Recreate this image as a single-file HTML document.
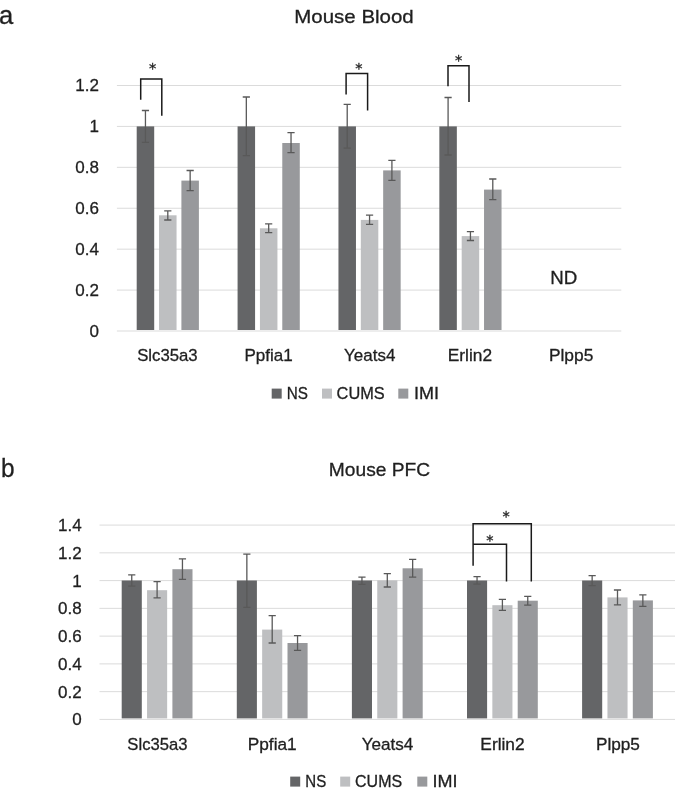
<!DOCTYPE html>
<html><head><meta charset="utf-8"><title>Mouse Blood / Mouse PFC</title>
<style>
html,body{margin:0;padding:0;background:#fff;}
svg{display:block}
text{font-family:"Liberation Sans",sans-serif;fill:#1f1f1f;stroke:#1f1f1f;stroke-width:0.3px;}
</style></head><body>
<svg width="675" height="793" viewBox="0 0 675 793">
<rect width="675" height="793" fill="#fff"/>
<rect x="116.90" y="330.50" width="504.40" height="1" fill="#dbdbdb"/>
<text x="99.00" y="336.60" font-size="17" text-anchor="end">0</text>
<rect x="116.90" y="289.58" width="504.40" height="1" fill="#dbdbdb"/>
<text x="99.00" y="295.68" font-size="17" text-anchor="end">0.2</text>
<rect x="116.90" y="248.66" width="504.40" height="1" fill="#dbdbdb"/>
<text x="99.00" y="254.76" font-size="17" text-anchor="end">0.4</text>
<rect x="116.90" y="207.74" width="504.40" height="1" fill="#dbdbdb"/>
<text x="99.00" y="213.84" font-size="17" text-anchor="end">0.6</text>
<rect x="116.90" y="166.82" width="504.40" height="1" fill="#dbdbdb"/>
<text x="99.00" y="172.92" font-size="17" text-anchor="end">0.8</text>
<rect x="116.90" y="125.90" width="504.40" height="1" fill="#dbdbdb"/>
<text x="99.00" y="132.00" font-size="17" text-anchor="end">1</text>
<rect x="116.90" y="84.98" width="504.40" height="1" fill="#dbdbdb"/>
<text x="99.00" y="91.08" font-size="17" text-anchor="end">1.2</text>
<rect x="136.70" y="126.40" width="17.50" height="203.60" fill="#646567"/>
<path d="M145.45 110.50V142.40M141.85 110.50H149.05M141.85 142.40H149.05" stroke="#595959" stroke-width="1.3" fill="none"/>
<rect x="159.05" y="215.30" width="17.50" height="114.70" fill="#bebfc1"/>
<path d="M167.80 210.80V220.00M164.20 210.80H171.40M164.20 220.00H171.40" stroke="#595959" stroke-width="1.3" fill="none"/>
<rect x="181.40" y="180.60" width="17.50" height="149.40" fill="#98999c"/>
<path d="M190.15 170.50V190.70M186.55 170.50H193.75M186.55 190.70H193.75" stroke="#595959" stroke-width="1.3" fill="none"/>
<rect x="237.58" y="126.40" width="17.50" height="203.60" fill="#646567"/>
<path d="M246.33 97.00V155.70M242.73 97.00H249.93M242.73 155.70H249.93" stroke="#595959" stroke-width="1.3" fill="none"/>
<rect x="259.93" y="228.30" width="17.50" height="101.70" fill="#bebfc1"/>
<path d="M268.68 223.90V232.70M265.08 223.90H272.28M265.08 232.70H272.28" stroke="#595959" stroke-width="1.3" fill="none"/>
<rect x="282.28" y="143.00" width="17.50" height="187.00" fill="#98999c"/>
<path d="M291.03 132.60V152.70M287.43 132.60H294.63M287.43 152.70H294.63" stroke="#595959" stroke-width="1.3" fill="none"/>
<rect x="338.46" y="126.40" width="17.50" height="203.60" fill="#646567"/>
<path d="M347.21 104.30V148.10M343.61 104.30H350.81M343.61 148.10H350.81" stroke="#595959" stroke-width="1.3" fill="none"/>
<rect x="360.81" y="219.90" width="17.50" height="110.10" fill="#bebfc1"/>
<path d="M369.56 215.10V224.30M365.96 215.10H373.16M365.96 224.30H373.16" stroke="#595959" stroke-width="1.3" fill="none"/>
<rect x="383.16" y="170.40" width="17.50" height="159.60" fill="#98999c"/>
<path d="M391.91 160.30V180.40M388.31 160.30H395.51M388.31 180.40H395.51" stroke="#595959" stroke-width="1.3" fill="none"/>
<rect x="439.34" y="126.40" width="17.50" height="203.60" fill="#646567"/>
<path d="M448.09 97.50V155.00M444.49 97.50H451.69M444.49 155.00H451.69" stroke="#595959" stroke-width="1.3" fill="none"/>
<rect x="461.69" y="236.10" width="17.50" height="93.90" fill="#bebfc1"/>
<path d="M470.44 231.70V240.50M466.84 231.70H474.04M466.84 240.50H474.04" stroke="#595959" stroke-width="1.3" fill="none"/>
<rect x="484.04" y="189.60" width="17.50" height="140.40" fill="#98999c"/>
<path d="M492.79 179.00V199.70M489.19 179.00H496.39M489.19 199.70H496.39" stroke="#595959" stroke-width="1.3" fill="none"/>
<text x="167.40" y="361.30" font-size="16.3" text-anchor="middle" textLength="60.50" lengthAdjust="spacingAndGlyphs">Slc35a3</text>
<text x="268.60" y="361.30" font-size="16.3" text-anchor="middle" textLength="48.30" lengthAdjust="spacingAndGlyphs">Ppfia1</text>
<text x="369.70" y="361.30" font-size="16.3" text-anchor="middle" textLength="51.30" lengthAdjust="spacingAndGlyphs">Yeats4</text>
<text x="469.90" y="361.30" font-size="16.3" text-anchor="middle" textLength="44.30" lengthAdjust="spacingAndGlyphs">Erlin2</text>
<text x="571.15" y="361.30" font-size="16.3" text-anchor="middle" textLength="44.40" lengthAdjust="spacingAndGlyphs">Plpp5</text>
<path d="M140.70 99.80V78.90H161.80V115.70" stroke="#1a1a1a" stroke-width="1.5" fill="none" stroke-linejoin="miter"/>
<path d="M346.10 94.50V73.40H367.60V110.50" stroke="#1a1a1a" stroke-width="1.5" fill="none" stroke-linejoin="miter"/>
<path d="M448.00 86.20V65.80H469.00V101.90" stroke="#1a1a1a" stroke-width="1.5" fill="none" stroke-linejoin="miter"/>
<text x="152.50" y="73.20" font-size="14.5" text-anchor="middle" style="font-family:'DejaVu Sans',sans-serif">*</text>
<text x="358.90" y="73.10" font-size="14.5" text-anchor="middle" style="font-family:'DejaVu Sans',sans-serif">*</text>
<text x="458.50" y="64.50" font-size="14.5" text-anchor="middle" style="font-family:'DejaVu Sans',sans-serif">*</text>
<text x="354.00" y="23.30" font-size="19" text-anchor="middle" textLength="119.50" lengthAdjust="spacingAndGlyphs">Mouse Blood</text>
<text x="563.85" y="284.40" font-size="18.8" text-anchor="middle" textLength="27.00" lengthAdjust="spacingAndGlyphs">ND</text>
<rect x="271.70" y="388.60" width="10" height="10" fill="#646567"/>
<text x="286.80" y="398.60" font-size="16.0" text-anchor="start" textLength="21.20" lengthAdjust="spacingAndGlyphs">NS</text>
<rect x="322.00" y="388.60" width="10" height="10" fill="#bebfc1"/>
<text x="336.60" y="398.60" font-size="16.0" text-anchor="start" textLength="48.10" lengthAdjust="spacingAndGlyphs">CUMS</text>
<rect x="398.30" y="388.60" width="10" height="10" fill="#98999c"/>
<text x="413.90" y="398.60" font-size="16.0" text-anchor="start" textLength="25.00" lengthAdjust="spacingAndGlyphs">IMI</text>
<text x="-1.00" y="23.70" font-size="25.6" text-anchor="start">a</text>
<rect x="99.50" y="718.90" width="575.50" height="1" fill="#dbdbdb"/>
<text x="81.70" y="725.40" font-size="17" text-anchor="end">0</text>
<rect x="99.50" y="691.14" width="575.50" height="1" fill="#dbdbdb"/>
<text x="81.70" y="697.64" font-size="17" text-anchor="end">0.2</text>
<rect x="99.50" y="663.38" width="575.50" height="1" fill="#dbdbdb"/>
<text x="81.70" y="669.88" font-size="17" text-anchor="end">0.4</text>
<rect x="99.50" y="635.62" width="575.50" height="1" fill="#dbdbdb"/>
<text x="81.70" y="642.12" font-size="17" text-anchor="end">0.6</text>
<rect x="99.50" y="607.86" width="575.50" height="1" fill="#dbdbdb"/>
<text x="81.70" y="614.36" font-size="17" text-anchor="end">0.8</text>
<rect x="99.50" y="580.10" width="575.50" height="1" fill="#dbdbdb"/>
<text x="81.70" y="586.60" font-size="17" text-anchor="end">1</text>
<rect x="99.50" y="552.34" width="575.50" height="1" fill="#dbdbdb"/>
<text x="81.70" y="558.84" font-size="17" text-anchor="end">1.2</text>
<rect x="99.50" y="524.58" width="575.50" height="1" fill="#dbdbdb"/>
<text x="81.70" y="531.08" font-size="17" text-anchor="end">1.4</text>
<rect x="121.70" y="580.50" width="20.10" height="137.90" fill="#646567"/>
<path d="M131.75 574.80V586.10M128.15 574.80H135.35M128.15 586.10H135.35" stroke="#595959" stroke-width="1.3" fill="none"/>
<rect x="147.05" y="590.20" width="20.10" height="128.20" fill="#bebfc1"/>
<path d="M157.10 581.60V597.90M153.50 581.60H160.70M153.50 597.90H160.70" stroke="#595959" stroke-width="1.3" fill="none"/>
<rect x="172.40" y="569.20" width="20.10" height="149.20" fill="#98999c"/>
<path d="M182.45 558.80V579.30M178.85 558.80H186.05M178.85 579.30H186.05" stroke="#595959" stroke-width="1.3" fill="none"/>
<rect x="236.80" y="580.50" width="20.10" height="137.90" fill="#646567"/>
<path d="M246.85 554.10V607.40M243.25 554.10H250.45M243.25 607.40H250.45" stroke="#595959" stroke-width="1.3" fill="none"/>
<rect x="262.15" y="629.60" width="20.10" height="88.80" fill="#bebfc1"/>
<path d="M272.20 615.60V643.00M268.60 615.60H275.80M268.60 643.00H275.80" stroke="#595959" stroke-width="1.3" fill="none"/>
<rect x="287.50" y="643.00" width="20.10" height="75.40" fill="#98999c"/>
<path d="M297.55 635.60V650.40M293.95 635.60H301.15M293.95 650.40H301.15" stroke="#595959" stroke-width="1.3" fill="none"/>
<rect x="351.90" y="580.50" width="20.10" height="137.90" fill="#646567"/>
<path d="M361.95 577.20V584.30M358.35 577.20H365.55M358.35 584.30H365.55" stroke="#595959" stroke-width="1.3" fill="none"/>
<rect x="377.25" y="580.40" width="20.10" height="138.00" fill="#bebfc1"/>
<path d="M387.30 573.60V587.00M383.70 573.60H390.90M383.70 587.00H390.90" stroke="#595959" stroke-width="1.3" fill="none"/>
<rect x="402.60" y="568.30" width="20.10" height="150.10" fill="#98999c"/>
<path d="M412.65 559.40V577.20M409.05 559.40H416.25M409.05 577.20H416.25" stroke="#595959" stroke-width="1.3" fill="none"/>
<rect x="467.00" y="580.50" width="20.10" height="137.90" fill="#646567"/>
<path d="M477.05 576.70V584.10M473.45 576.70H480.65M473.45 584.10H480.65" stroke="#595959" stroke-width="1.3" fill="none"/>
<rect x="492.35" y="605.20" width="20.10" height="113.20" fill="#bebfc1"/>
<path d="M502.40 599.30V610.40M498.80 599.30H506.00M498.80 610.40H506.00" stroke="#595959" stroke-width="1.3" fill="none"/>
<rect x="517.70" y="600.70" width="20.10" height="117.70" fill="#98999c"/>
<path d="M527.75 596.30V605.20M524.15 596.30H531.35M524.15 605.20H531.35" stroke="#595959" stroke-width="1.3" fill="none"/>
<rect x="582.10" y="580.50" width="20.10" height="137.90" fill="#646567"/>
<path d="M592.15 575.60V585.60M588.55 575.60H595.75M588.55 585.60H595.75" stroke="#595959" stroke-width="1.3" fill="none"/>
<rect x="607.45" y="597.40" width="20.10" height="121.00" fill="#bebfc1"/>
<path d="M617.50 590.00V604.80M613.90 590.00H621.10M613.90 604.80H621.10" stroke="#595959" stroke-width="1.3" fill="none"/>
<rect x="632.80" y="600.40" width="20.10" height="118.00" fill="#98999c"/>
<path d="M642.85 594.80V606.30M639.25 594.80H646.45M639.25 606.30H646.45" stroke="#595959" stroke-width="1.3" fill="none"/>
<text x="157.40" y="750.00" font-size="16.3" text-anchor="middle" textLength="60.10" lengthAdjust="spacingAndGlyphs">Slc35a3</text>
<text x="272.20" y="750.00" font-size="16.3" text-anchor="middle" textLength="48.90" lengthAdjust="spacingAndGlyphs">Ppfia1</text>
<text x="387.45" y="750.00" font-size="16.3" text-anchor="middle" textLength="51.60" lengthAdjust="spacingAndGlyphs">Yeats4</text>
<text x="502.50" y="750.00" font-size="16.3" text-anchor="middle" textLength="44.30" lengthAdjust="spacingAndGlyphs">Erlin2</text>
<text x="617.95" y="750.00" font-size="16.3" text-anchor="middle" textLength="44.00" lengthAdjust="spacingAndGlyphs">Plpp5</text>
<path d="M473.10 565.70V523.80H531.30V581.60" stroke="#1a1a1a" stroke-width="1.5" fill="none" stroke-linejoin="miter"/>
<path d="M473.1 544.3H506.5V581.6" stroke="#1a1a1a" stroke-width="1.5" fill="none"/>
<text x="506.20" y="520.80" font-size="14.5" text-anchor="middle" style="font-family:'DejaVu Sans',sans-serif">*</text>
<text x="489.90" y="544.50" font-size="14.5" text-anchor="middle" style="font-family:'DejaVu Sans',sans-serif">*</text>
<text x="379.50" y="476.30" font-size="19" text-anchor="middle" textLength="101.30" lengthAdjust="spacingAndGlyphs">Mouse PFC</text>
<rect x="290.20" y="776.60" width="10" height="10" fill="#646567"/>
<text x="305.30" y="786.60" font-size="16.0" text-anchor="start" textLength="20.90" lengthAdjust="spacingAndGlyphs">NS</text>
<rect x="340.20" y="776.60" width="10" height="10" fill="#bebfc1"/>
<text x="355.10" y="786.60" font-size="16.0" text-anchor="start" textLength="47.00" lengthAdjust="spacingAndGlyphs">CUMS</text>
<rect x="417.30" y="776.60" width="10" height="10" fill="#98999c"/>
<text x="432.50" y="786.60" font-size="16.0" text-anchor="start" textLength="25.00" lengthAdjust="spacingAndGlyphs">IMI</text>
<text x="0.90" y="476.90" font-size="26.2" text-anchor="start" textLength="13.60" lengthAdjust="spacingAndGlyphs">b</text>
</svg>
</body></html>
